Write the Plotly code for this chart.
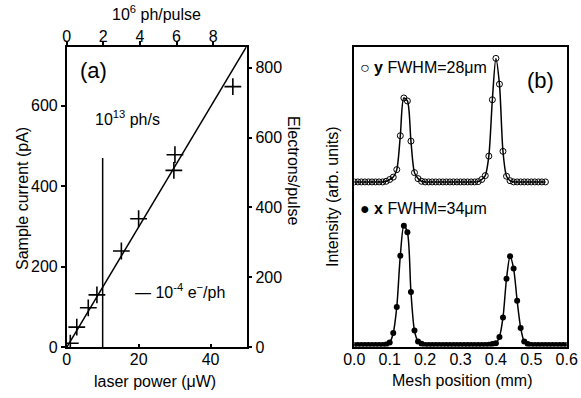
import plotly.graph_objects as go

# ---------------- data: panel (a) ----------------
laser_power_uW = [1.0, 2.8, 6.0, 8.4, 15.2, 20.0, 29.8, 30.1, 46.2]
sample_current_pA = [10, 50, 98, 130, 239, 319, 439, 478, 647]
fit_power_uW = [0, 50]
fit_current_pA = [0, 746]
marker_power_uW = [10, 10]
marker_current_pA = [0, 470]
top_ticks = [0, 2, 4, 6, 8]
bottom_ticks = [0, 20, 40]
left_ticks = [0, 200, 400, 600]
right_ticks = [0, 200, 400, 600, 800]

# ---------------- data: panel (b) ----------------
mesh_x_pos = [0.00, 0.01, 0.02, 0.03, 0.04, 0.05, 0.06, 0.07, 0.08, 0.09,
              0.10, 0.11, 0.12, 0.13, 0.14, 0.15, 0.16, 0.17, 0.18, 0.19,
              0.20, 0.21, 0.22, 0.23, 0.24, 0.25, 0.26, 0.27, 0.28, 0.29,
              0.30, 0.31, 0.32, 0.33, 0.34, 0.35, 0.36, 0.37, 0.38, 0.39,
              0.40, 0.41, 0.42, 0.43, 0.44, 0.45, 0.46, 0.47, 0.48, 0.49,
              0.50, 0.51, 0.52, 0.53, 0.54, 0.55, 0.56, 0.57, 0.58, 0.59,
              0.60]
x_intensity = [0, 0, 0, 0, 0, 0, 0, 0, 0, 0.002,
               0.008, 0.040, 0.127, 0.298, 0.398, 0.376, 0.177, 0.048, 0.012, 0.004,
               0, 0, 0, 0, 0, 0, 0, 0, 0, 0,
               0, 0, 0, 0, 0, 0, 0, 0, 0.001, 0.003,
               0.006, 0.027, 0.092, 0.221, 0.296, 0.255, 0.148, 0.057, 0.012, 0.003,
               0, 0, 0, 0, 0, 0, 0, 0, 0, 0,
               0]

mesh_y_pos = [0.00, 0.01, 0.02, 0.03, 0.04, 0.05, 0.06, 0.07, 0.08, 0.09,
              0.10, 0.11, 0.12, 0.13, 0.14, 0.15, 0.16, 0.17, 0.18, 0.19,
              0.20, 0.21, 0.22, 0.23, 0.24, 0.25, 0.26, 0.27, 0.28, 0.29,
              0.30, 0.31, 0.32, 0.33, 0.34, 0.35, 0.36, 0.37, 0.38, 0.39,
              0.40, 0.41, 0.42, 0.43, 0.44, 0.45, 0.46, 0.47, 0.48, 0.49,
              0.50, 0.51, 0.52, 0.53, 0.54]
y_intensity = [0.544, 0.544, 0.544, 0.544, 0.544, 0.544, 0.544, 0.544, 0.544, 0.546,
               0.552, 0.560, 0.585, 0.698, 0.824, 0.814, 0.680, 0.575, 0.555, 0.546,
               0.544, 0.544, 0.544, 0.544, 0.544, 0.544, 0.544, 0.544, 0.544, 0.544,
               0.544, 0.544, 0.544, 0.544, 0.544, 0.545, 0.552, 0.565, 0.630, 0.818,
               0.956, 0.870, 0.646, 0.563, 0.548, 0.544, 0.544, 0.544, 0.544, 0.544,
               0.544, 0.544, 0.544, 0.544, 0.544]
mesh_ticks = [0.0, 0.1, 0.2, 0.3, 0.4, 0.5, 0.6]

FONT = "Arial, 'Liberation Sans', sans-serif"
W, H = 581, 398


def px(x):
    return x / W


def py(y):
    return 1 - y / H


fig = go.Figure()

# panel (a)
fig.add_trace(go.Scatter(x=fit_power_uW, y=fit_current_pA, mode="lines",
                         line=dict(color="black", width=1.5),
                         xaxis="x", yaxis="y", showlegend=False, hoverinfo="skip"))
fig.add_trace(go.Scatter(x=marker_power_uW, y=marker_current_pA, mode="lines",
                         line=dict(color="black", width=1.5),
                         xaxis="x", yaxis="y", showlegend=False, hoverinfo="skip"))
fig.add_trace(go.Scatter(x=laser_power_uW, y=sample_current_pA, mode="markers",
                         marker=dict(symbol="cross-thin-open", size=12, color="black",
                                     line=dict(color="black", width=1.6)),
                         xaxis="x", yaxis="y", showlegend=False))
# invisible anchors so secondary axes render
fig.add_trace(go.Scatter(x=[0], y=[0], mode="markers", marker=dict(opacity=0),
                         xaxis="x2", yaxis="y2", showlegend=False, hoverinfo="skip"))

# panel (b)
fig.add_trace(go.Scatter(x=mesh_y_pos, y=y_intensity, mode="lines+markers",
                         line=dict(color="black", width=1.5, shape="spline", smoothing=0.8),
                         marker=dict(symbol="circle-open", size=6, color="black",
                                     line=dict(width=1)),
                         xaxis="x3", yaxis="y3", showlegend=False))
fig.add_trace(go.Scatter(x=mesh_x_pos, y=x_intensity, mode="lines+markers",
                         line=dict(color="black", width=1.5, shape="spline", smoothing=0.8),
                         marker=dict(symbol="circle", size=6, color="black"),
                         xaxis="x3", yaxis="y3", showlegend=False))

axis_common = dict(showline=True, linecolor="black", linewidth=1.5, showgrid=False,
                   zeroline=False, tickcolor="black", tickwidth=1.5, ticklen=4,
                   automargin=False,
                   tickfont=dict(family=FONT, size=16, color="black"))

a_dom_x = [px(66.7), px(246.5)]
a_dom_y = [py(347.3), py(46.7)]
b_dom_x = [px(354.3), px(566.7)]
b_dom_y = [py(346.5), py(46.7)]

fig.update_layout(
    width=W, height=H, margin=dict(l=0, r=0, t=0, b=0, pad=0, autoexpand=False),
    paper_bgcolor="white", plot_bgcolor="white",
    font=dict(family=FONT, size=16, color="black"),
    xaxis=dict(domain=a_dom_x, anchor="y", range=[0, 50], tickvals=bottom_ticks,
               ticks="inside", ticklabelstandoff=-3, **axis_common),
    xaxis2=dict(overlaying="x", side="top", anchor="y", range=[0, 9.82],
                tickvals=top_ticks, ticks="outside", ticklabelstandoff=-7,
                **axis_common),
    yaxis=dict(domain=a_dom_y, anchor="x", range=[0, 746], tickvals=left_ticks,
               ticks="outside", **axis_common),
    yaxis2=dict(overlaying="y", side="right", anchor="x", range=[0, 860],
                tickvals=right_ticks, ticks="outside", **axis_common),
    xaxis3=dict(domain=b_dom_x, anchor="y3", range=[0, 0.6], tickvals=mesh_ticks,
                tickformat=".1f", ticks="", mirror=True, ticklabelstandoff=-2,
                **axis_common),
    yaxis3=dict(domain=b_dom_y, anchor="x3", range=[-0.005, 0.995],
                showticklabels=False, ticks="", mirror=True, **axis_common),
)


def ann(text, x, y, size=16, angle=0, xanchor="center"):
    fig.add_annotation(text=text, x=px(x), y=py(y), xref="paper", yref="paper",
                       showarrow=False, xanchor=xanchor, yanchor="middle",
                       textangle=angle, font=dict(family=FONT, size=size, color="black"))


ann("10<sup>6</sup> ph/pulse", 156, 13)
ann("laser power (\u03bcW)", 155, 381)
ann("Sample current (pA)", 22, 199, angle=-90)
ann("Electrons/pulse", 293, 170, angle=90)
ann("(a)", 93, 70, size=22)
ann("10<sup>13</sup> ph/s", 127, 118)
ann("\u2014 10<sup>-4</sup> e<sup>\u2212</sup>/ph", 133, 291, xanchor="left")

ann("Mesh position (mm)", 462, 380)
ann("Intensity (arb. units)", 332, 197, angle=-90)
ann("(b)", 540, 80, size=22)
ann("\u25cb <b>y</b> FWHM=28\u03bcm", 358, 68, xanchor="left")
ann("\u25cf <b>x</b> FWHM=34\u03bcm", 358, 208, xanchor="left")

fig.write_html("out.html")
